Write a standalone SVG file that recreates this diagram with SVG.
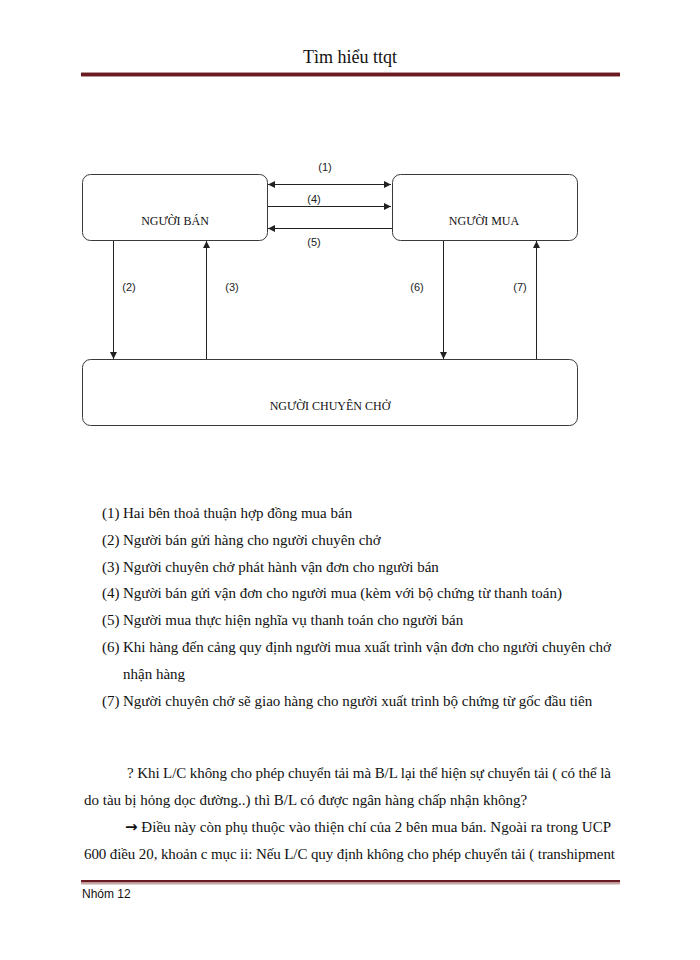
<svg xmlns="http://www.w3.org/2000/svg" width="700" height="960" viewBox="0 0 700 960">
<style>
.box{fill:#ffffff;stroke:#3a3a3a;stroke-width:1}
.lbl{font-family:"Liberation Serif","Times New Roman",serif;font-size:12px;fill:#111;text-anchor:middle}
.num{font-family:"Liberation Sans",Arial,sans-serif;font-size:11px;fill:#222;text-anchor:middle}
.ln{stroke:#222;stroke-width:1;fill:none}
.body{font-family:"Liberation Serif","Times New Roman",serif;font-size:15px;fill:#111}
.title{font-family:"Liberation Serif","Times New Roman",serif;font-size:18px;fill:#111;text-anchor:middle}
.foot{font-family:"Liberation Sans",Arial,sans-serif;font-size:12px;fill:#111}
.arr{font-family:"DejaVu Sans",sans-serif;font-weight:bold}
</style>
<defs>
<marker id="ah" viewBox="0 0 10 10" refX="10" refY="5" markerWidth="7" markerHeight="7" markerUnits="userSpaceOnUse" orient="auto-start-reverse">
<path d="M0,0 L10,5 L0,10 z" fill="#222"/>
</marker>
</defs>
<rect width="700" height="960" fill="#ffffff"/>

<g id="header">
<text class="title" x="350" y="63">Tìm hiểu ttqt</text>
<rect x="81" y="72" width="539" height="5" fill="#b99898"/>
<rect x="81" y="73" width="539" height="3" fill="#6a1a20"/>
</g>

<g id="nguoi-ban">
<rect class="box" x="82.5" y="174.5" width="185" height="66" rx="8"/>
<text class="lbl" x="175" y="225">NGƯỜI BÁN</text>
</g>
<g id="nguoi-mua">
<rect class="box" x="392.5" y="174.5" width="185" height="66" rx="8"/>
<text class="lbl" x="484" y="225">NGƯỜI MUA</text>
</g>
<g id="nguoi-chuyen-cho">
<rect class="box" x="82.5" y="359.5" width="495" height="66" rx="8"/>
<text class="lbl" x="330" y="410">NGƯỜI CHUYÊN CHỞ</text>
</g>

<g id="connectors">
<line class="ln" x1="268" y1="184.5" x2="391" y2="184.5" marker-start="url(#ah)" marker-end="url(#ah)"/>
<line class="ln" x1="268" y1="206.5" x2="391" y2="206.5" marker-end="url(#ah)"/>
<line class="ln" x1="392" y1="228.5" x2="268" y2="228.5" marker-end="url(#ah)"/>
<line class="ln" x1="113.5" y1="241" x2="113.5" y2="359" marker-end="url(#ah)"/>
<line class="ln" x1="206.5" y1="359" x2="206.5" y2="241" marker-end="url(#ah)"/>
<line class="ln" x1="443.5" y1="241" x2="443.5" y2="359" marker-end="url(#ah)"/>
<line class="ln" x1="536.5" y1="359" x2="536.5" y2="241" marker-end="url(#ah)"/>
<text class="num" x="325" y="171">(1)</text>
<text class="num" x="314" y="203">(4)</text>
<text class="num" x="314" y="246">(5)</text>
<text class="num" x="129" y="291">(2)</text>
<text class="num" x="232" y="291">(3)</text>
<text class="num" x="417" y="291">(6)</text>
<text class="num" x="520" y="291">(7)</text>
</g>

<g id="list">
<text class="body" x="102" y="518">(1)</text><text class="body" x="123" y="518">Hai bên thoả thuận hợp đồng mua bán</text>
<text class="body" x="102" y="545">(2)</text><text class="body" x="123" y="545">Người bán gửi hàng cho người chuyên chở</text>
<text class="body" x="102" y="572">(3)</text><text class="body" x="123" y="572">Người chuyên chở phát hành vận đơn cho người bán</text>
<text class="body" x="102" y="598">(4)</text><text class="body" x="123" y="598">Người bán gửi vận đơn cho người mua (kèm với bộ chứng từ thanh toán)</text>
<text class="body" x="102" y="625">(5)</text><text class="body" x="123" y="625">Người mua thực hiện nghĩa vụ thanh toán cho người bán</text>
<text class="body" x="102" y="652">(6)</text><text class="body" x="123" y="652" textLength="488" lengthAdjust="spacing">Khi hàng đến cảng quy định người mua xuất trình vận đơn cho người chuyên chở</text>
<text class="body" x="123" y="679">nhận hàng</text>
<text class="body" x="102" y="706">(7)</text><text class="body" x="123" y="706">Người chuyên chở sẽ giao hàng cho người xuất trình bộ chứng từ gốc đầu tiên</text>
</g>

<g id="paragraph">
<text class="body" x="127" y="778" textLength="484" lengthAdjust="spacing">? Khi L/C không cho phép chuyển tải mà B/L lại thể hiện sự chuyển tải ( có thể là</text>
<text class="body" x="84" y="805">do tàu bị hỏng dọc đường..) thì B/L có được ngân hàng chấp nhận không?</text>
<text class="body" x="125" y="832" textLength="486" lengthAdjust="spacing"><tspan class="arr">→</tspan> Điều này còn phụ thuộc vào thiện chí của 2 bên mua bán. Ngoài ra trong UCP</text>
<text class="body" x="84" y="859" textLength="531" lengthAdjust="spacing">600 điều 20, khoản c mục ii: Nếu L/C quy định không cho phép chuyển tải ( transhipment</text>
</g>

<g id="footer">
<rect x="81" y="880" width="539" height="2.5" fill="#6a1a20"/>
<rect x="81" y="882.5" width="539" height="2" fill="#c4a4a4"/>
<text class="foot" x="82" y="898">Nhóm 12</text>
</g>
</svg>
